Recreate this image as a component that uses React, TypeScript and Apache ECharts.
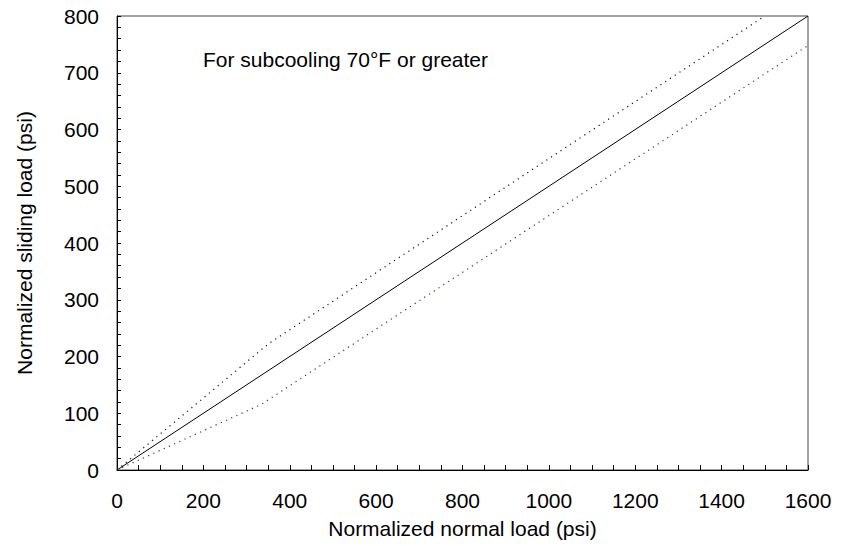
import React, { useEffect, useRef } from "react";
import * as echarts from "echarts";

const xTicks = [0, 200, 400, 600, 800, 1000, 1200, 1400, 1600];
const yTicks = [0, 100, 200, 300, 400, 500, 600, 700, 800];

const midX = [0, 1600];
const midY = [0, 800];

const upperX = [0, 350, 1500];
const upperY = [0, 222, 800];

const lowerX = [0, 335, 1600];
const lowerY = [0, 116, 748];

const annotation = "For subcooling 70\u00B0F or greater";
const xName = "Normalized normal load (psi)";
const yName = "Normalized sliding load (psi)";

const FONT = "'Liberation Sans', Arial, sans-serif";

function pairs(xs: number[], ys: number[]) {
  return xs.map((x, i) => [x, ys[i]]);
}

export default function App() {
  const ref = useRef<HTMLDivElement>(null);
  useEffect(() => {
    if (!ref.current) return;
    const chart = echarts.init(ref.current, null, { renderer: "svg" });
    const axisCommon = {
      axisLine: { show: true, lineStyle: { color: "#000", width: 1 } },
      splitLine: { show: false },
      nameLocation: "middle" as const,
      nameTextStyle: { fontFamily: FONT, fontSize: 21, color: "#000" },
    };
    chart.setOption({
      animation: false,
      backgroundColor: "#fff",
      grid: {
        left: 117,
        top: 16,
        right: 34,
        bottom: 76,
        show: true,
        borderColor: "#444",
        borderWidth: 1,
        containLabel: false,
      },
      xAxis: {
        type: "value",
        min: xTicks[0],
        max: xTicks[xTicks.length - 1],
        interval: 200,
        name: xName,
        nameGap: 48,
        ...axisCommon,
        axisTick: { show: true, inside: true, length: 5, lineStyle: { color: "#000" } },
        minorTick: { show: true, splitNumber: 4, length: 5, lineStyle: { color: "#000" } },
        axisLabel: {
          margin: 20,
          fontFamily: FONT,
          fontSize: 21,
          color: "#000",
          formatter: (v: number) => String(v),
        },
      },
      yAxis: {
        type: "value",
        min: yTicks[0],
        max: yTicks[yTicks.length - 1],
        interval: 100,
        name: yName,
        nameGap: 82,
        ...axisCommon,
        axisTick: { show: true, inside: true, length: 4, lineStyle: { color: "#000" } },
        minorTick: { show: true, splitNumber: 5, length: 4, lineStyle: { color: "#000" } },
        axisLabel: {
          margin: 18,
          fontFamily: FONT,
          fontSize: 21,
          color: "#000",
          formatter: (v: number) => String(v),
        },
      },
      series: [
        {
          type: "line",
          data: pairs(midX, midY),
          symbol: "none",
          lineStyle: { color: "#000", width: 1 },
          z: 3,
        },
        {
          type: "line",
          data: pairs(upperX, upperY),
          symbol: "none",
          lineStyle: { color: "#111", width: 1.2, type: [1.2, 4.5] },
          z: 3,
        },
        {
          type: "line",
          data: pairs(lowerX, lowerY),
          symbol: "none",
          lineStyle: { color: "#2a2a9a", width: 1.2, type: [1.2, 4.5] },
          z: 3,
        },
      ],
      graphic: [
        {
          type: "text",
          x: 203,
          y: 59,
          style: {
            text: annotation,
            fontFamily: FONT,
            fontSize: 21,
            fill: "#000",
            textVerticalAlign: "middle",
            verticalAlign: "middle",
          },
        },
      ],
    });
    return () => chart.dispose();
  }, []);
  return (
    <div
      ref={ref}
      style={{ position: "fixed", left: 0, top: 0, width: 842, height: 546 }}
    />
  );
}
